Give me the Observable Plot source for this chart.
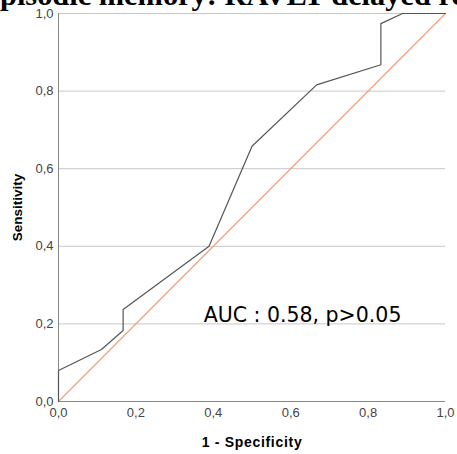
<!DOCTYPE html>
<html><head><meta charset="utf-8">
<script src="https://cdn.jsdelivr.net/npm/d3@7"></script>
<script src="https://cdn.jsdelivr.net/npm/@observablehq/plot@0.6"></script>
<style>
body{margin:0;background:#fff;overflow:hidden}
#wrap{position:relative;width:457px;height:454px;overflow:hidden}
#chart{position:absolute;left:0;top:0}
#title{position:absolute;left:0;top:0;pointer-events:none}
</style></head>
<body><div id="wrap"><div id="chart"></div><svg id="title" width="457" height="30"></svg></div>
<script>
const titleText = "Episodic memory: RAVLT delayed recall";
const fpr = [0, 0, 0.111, 0.167, 0.167, 0.389, 0.5, 0.667, 0.833, 0.833, 0.889, 1];
const tpr = [0, 0.08, 0.134, 0.183, 0.237, 0.4, 0.658, 0.816, 0.868, 0.974, 1, 1];
const refX = [0, 1];
const refY = [0, 1];
const ticks = [0, 0.2, 0.4, 0.6, 0.8, 1.0];
const annotation = "AUC : 0.58, p>0.05";

const roc = fpr.map((x, i) => ({x, y: tpr[i]}));
const ref = refX.map((x, i) => ({x, y: refY[i]}));
const fmt = d => d.toFixed(1).replace(".", ",");

const chart = Plot.plot({
  width: 457, height: 454,
  marginLeft: 58, marginRight: 12, marginTop: 13, marginBottom: 53,
  style: {fontFamily: "'Liberation Sans', Arial, sans-serif", fontSize: "13px", background: "transparent"},
  x: {domain: [0, 1]},
  y: {domain: [0, 1]},
  marks: [
    Plot.gridY(ticks, {stroke: "#c8c8c8", strokeOpacity: 1}),
    Plot.ruleX([0], {stroke: "#888"}),
    Plot.ruleY([0], {stroke: "#888"}),
    Plot.axisY(ticks, {tickSize: 0, tickPadding: 5, tickFormat: fmt, fill: "#444", fontSize: 13,
      label: "Sensitivity", labelAnchor: "center", labelArrow: "none", labelOffset: 46}),
    Plot.axisX(ticks, {tickSize: 0, tickPadding: 6, tickFormat: fmt, fill: "#444", fontSize: 13,
      label: "1 - Specificity", labelAnchor: "center", labelArrow: "none", labelOffset: 45}),
    Plot.line(ref, {x: "x", y: "y", stroke: "#f4a07c", strokeWidth: 1.2}),
    Plot.line(roc, {x: "x", y: "y", stroke: "#555", strokeWidth: 1.2}),
    Plot.text([annotation], {x: 0.375, y: 0.205, text: d => d, textAnchor: "start", lineAnchor: "bottom", fontSize: 20.5,
      fontFamily: "'DejaVu Sans', sans-serif", fill: "#000"})
  ]
});
chart.querySelectorAll("g[aria-label='y-axis label'] text").forEach(t => {
  t.setAttribute("font-weight", "bold"); t.setAttribute("fill", "#000"); t.setAttribute("font-size", "13.5");
});
chart.querySelectorAll("g[aria-label='x-axis label'] text").forEach(t => {
  t.setAttribute("font-weight", "bold"); t.setAttribute("fill", "#000"); t.setAttribute("font-size", "14");
  t.setAttribute("letter-spacing", "0.7");
});
document.getElementById("chart").appendChild(chart);

// title: sized so the visible part matches the reference crop
const fontFam = "'Liberation Serif', 'Times New Roman', serif";
const ctx = document.createElement("canvas").getContext("2d");
ctx.font = "bold 100px " + fontFam;
const wE = ctx.measureText("E").width;
const wPre = ctx.measureText("Episodic memory: RAVLT ").width;
const size = 100 * 332 / (wPre - wE);
const tsvg = d3.select("#title");
tsvg.append("text").attr("x", -wE * size / 100).attr("y", 4.5)
  .attr("font-family", fontFam).attr("font-weight", "bold").attr("font-size", size)
  .attr("fill", "#000").text(titleText);
</script></body></html>
